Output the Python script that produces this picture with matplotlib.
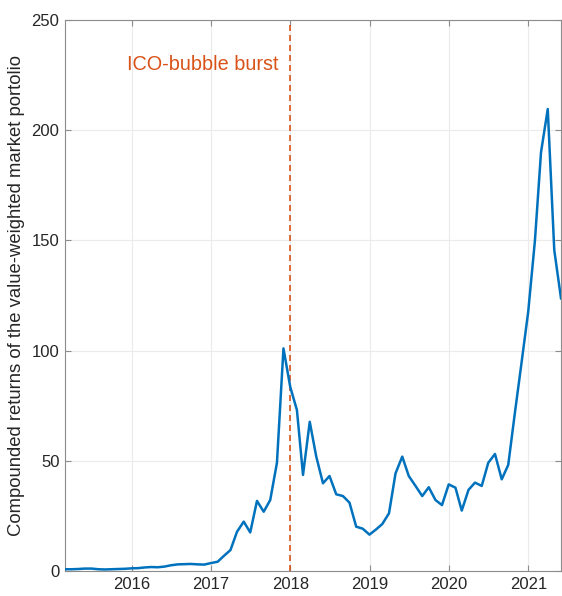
import matplotlib
matplotlib.use('Agg')
import matplotlib.pyplot as plt
import matplotlib.dates as mdates
import pandas as pd

plt.rcParams['font.family'] = ['Liberation Sans', 'DejaVu Sans']

# monthly compounded returns, Feb 2015 - May 2021 (month ends)
start_month = '2015-02-28'
end_month = '2021-05-31'
returns_2015 = [0.8, 0.8, 0.9, 1.1, 1.1, 0.8, 0.7, 0.8, 0.9, 1.0, 1.2]
returns_2016 = [1.3, 1.6, 1.8, 1.7, 2.0, 2.6, 3.0, 3.1, 3.2, 3.0, 2.9, 3.6]
returns_2017 = [4.2, 6.8, 9.5, 17.8, 22.4, 17.5, 31.8, 26.9, 32.2, 49.1, 101.0, 83.6]
returns_2018 = [73.0, 43.6, 67.7, 51.9, 39.8, 43.1, 34.8, 34.0, 31.0, 20.1, 19.2, 16.5]
returns_2019 = [18.9, 21.3, 26.2, 44.3, 51.9, 43.1, 38.6, 34.0, 38.0, 32.2, 29.9, 39.3]
returns_2020 = [37.8, 27.4, 36.8, 40.1, 38.6, 49.1, 53.1, 41.6, 48.1, 72.0, 94.3, 117.6]
returns_2021 = [150.0, 190.0, 209.6, 145.6, 123.7]

burst_date = '2018-01-01'
burst_label = 'ICO-bubble burst'
year_ticks = ['2016', '2017', '2018', '2019', '2020', '2021']
y_ticks = [0, 50, 100, 150, 200, 250]

dates = pd.date_range(start_month, end_month, freq='ME')
values = (returns_2015 + returns_2016 + returns_2017 + returns_2018
          + returns_2019 + returns_2020 + returns_2021)

fig = plt.figure(figsize=(5.62, 5.96), dpi=100)
ax = fig.add_axes([65 / 562, 1 - 571 / 596, 496 / 562, 551 / 596])

ax.plot(dates, values, color='#0072BD', linewidth=1.8, zorder=3)
ax.axvline(pd.Timestamp(burst_date), color='#D95319', linewidth=1.2,
           linestyle=(0, (3.6, 2.4)), zorder=2)
ax.text(pd.Timestamp('2017-11-09'), 230, burst_label, color='#D95319',
        fontsize=14.3, ha='right', va='center')

ax.set_xlim(dates[0], dates[-1])
ax.set_ylim(0, 250)
ax.set_xticks([pd.Timestamp(y + '-01-01') for y in year_ticks])
ax.xaxis.set_major_formatter(mdates.DateFormatter('%Y'))
ax.set_yticks(y_ticks)

ax.grid(True, color='#ebebeb', linewidth=0.8)
ax.set_axisbelow(True)
for s in ax.spines.values():
    s.set_color('#8c8c8c')
    s.set_linewidth(0.8)
ax.tick_params(direction='in', length=4, width=0.8, color='#8c8c8c',
               labelsize=12, labelcolor='#262626', top=True, right=True)
ax.tick_params(axis='x', pad=4.5)
ax.tick_params(axis='y', pad=4)

ax.set_ylabel('Compounded returns of the value-weighted market portolio',
              fontsize=13.3, color='#262626', labelpad=5)

fig.savefig('out.png', dpi=100)
